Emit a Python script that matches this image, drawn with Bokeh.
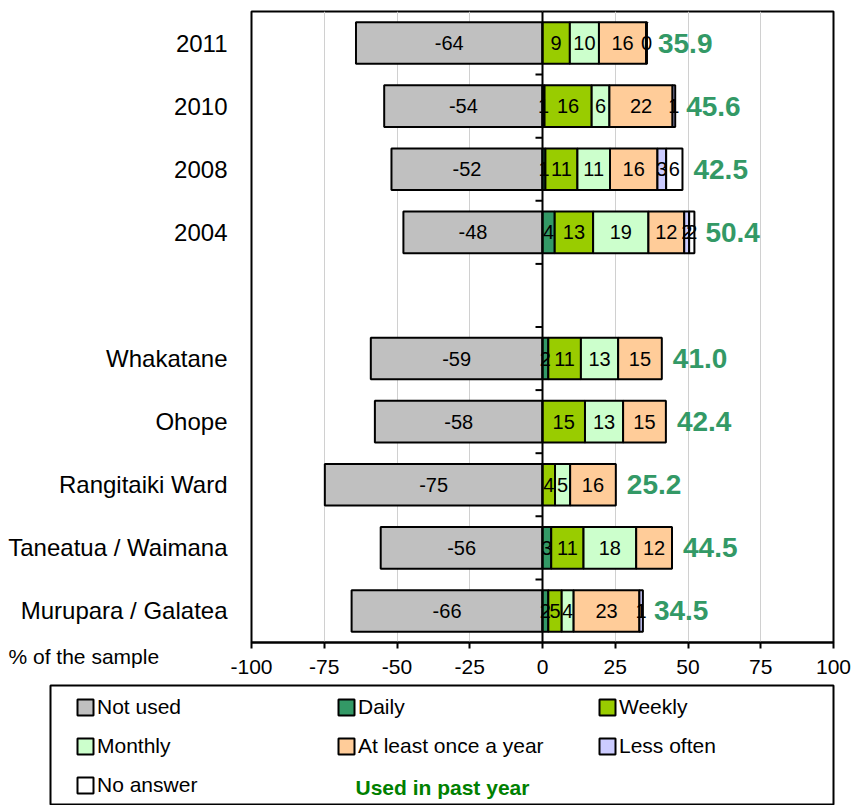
import numpy as np
from bokeh.plotting import figure
from bokeh.layouts import column
from bokeh.models import (ColumnDataSource, Range1d, FixedTicker, Span, Label,
                          Legend, LegendItem)
from bokeh.core.properties import value
from bokeh.embed import file_html
from bokeh.resources import INLINE

# ---------------- data ----------------
categories = ["2011", "2010", "2008", "2004", "", "Whakatane", "Ohope",
              "Rangitaiki Ward", "Taneatua / Waimana", "Murupara / Galatea"]
not_used = [64.1, 54.4, 51.9, 47.8, 0, 59.0, 57.6, 74.8, 55.6, 65.6]
daily = [0, 0.7, 1.0, 4.2, 0, 2.0, 0, 0, 3.0, 2.0]
weekly = [9.4, 16.2, 11.0, 13.2, 0, 11.2, 14.6, 4.3, 11.1, 4.6]
monthly = [10.0, 6.1, 11.2, 19.0, 0, 12.8, 13.1, 5.2, 18.1, 4.1]
yearly = [16.2, 21.7, 16.3, 12.3, 0, 15.0, 14.7, 15.7, 12.3, 22.6]
less_often = [0.3, 0.9, 3.0, 1.7, 0, 0, 0, 0, 0, 1.2]
no_answer = [0, 0, 5.6, 1.8, 0, 0, 0, 0, 0, 0]
used_past_year = [35.9, 45.6, 42.5, 50.4, None, 41.0, 42.4, 25.2, 44.5, 34.5]
x_ticks = [-100, -75, -50, -25, 0, 25, 50, 75, 100]
x_tick_labels = ["-100", "-75", "-50", "-25", "0", "25", "50", "75", "100"]

series_names = ["Not used", "Daily", "Weekly", "Monthly",
                "At least once a year", "Less often", "No answer"]
series_colors = ["#C0C0C0", "#339966", "#99CC00", "#CCFFCC",
                 "#FFCC99", "#CCCCFF", "#FFFFFF"]

FONT = "Liberation Sans"
n = len(categories)
y_pos = np.array([n - i - 0.5 for i in range(n)])

W = 852
H1 = 699
BL, BR, BT, BB = 251, 19, 11, 42
frame_w = W - BL - BR
px_per_unit = frame_w / (x_ticks[-1] - x_ticks[0])

p = figure(width=W, height=H1, output_backend="svg", toolbar_location=None,
           x_range=Range1d(x_ticks[0], x_ticks[-1]), y_range=Range1d(0, n),
           min_border_left=BL, min_border_right=BR, min_border_top=BT,
           min_border_bottom=BB)
p.outline_line_color = "black"
p.outline_line_width = 2
p.background_fill_color = "white"
p.border_fill_color = "white"

p.xaxis.ticker = FixedTicker(ticks=x_ticks)
p.xaxis.major_label_overrides = {t: s for t, s in zip(x_ticks, x_tick_labels)}
p.xaxis.axis_line_width = 2
p.xaxis.axis_line_color = "black"
p.xaxis.major_tick_out = 6
p.xaxis.major_tick_in = 0
p.xaxis.major_tick_line_width = 2
p.xaxis.minor_tick_line_color = None
p.xaxis.major_label_text_font = FONT
p.xaxis.major_label_text_font_size = "21px"
p.xaxis.major_label_text_color = "black"
p.xaxis.major_label_standoff = 11

p.yaxis.ticker = FixedTicker(ticks=list(y_pos))
p.yaxis.major_label_overrides = {float(y): c for y, c in zip(y_pos, categories)}
p.yaxis.axis_line_color = None
p.yaxis.major_tick_line_color = None
p.yaxis.minor_tick_line_color = None
p.yaxis.major_label_text_font = FONT
p.yaxis.major_label_text_font_size = "24px"
p.yaxis.major_label_text_color = "black"
p.yaxis.major_label_standoff = 18

p.xgrid.grid_line_color = "#D0D0D0"
p.xgrid.grid_line_width = 1
p.ygrid.grid_line_color = None

# ---------------- bars ----------------
bar_h = 0.66
pos_series = [daily, weekly, monthly, yearly, less_often, no_answer]
pos_arr = np.array(pos_series, dtype=float)
cum = np.cumsum(pos_arr, axis=0)
lefts = np.vstack([np.zeros(n), cum[:-1]])

label_x, label_y, label_t = [], [], []
sources = []

nu = np.array(not_used, dtype=float)
mask = nu > 0
src = ColumnDataSource(dict(y=y_pos[mask], left=-nu[mask], right=np.zeros(mask.sum())))
sources.append(src)
p.hbar(y="y", left="left", right="right", height=bar_h, source=src,
       fill_color=series_colors[0], line_color="black", line_width=2)
for v, y in zip(nu[mask], y_pos[mask]):
    label_x.append(-v / 2); label_y.append(y); label_t.append(f"{-v:.0f}")

for k, vals in enumerate(pos_series):
    arr = np.array(vals, dtype=float)
    m = arr > 0
    src = ColumnDataSource(dict(y=y_pos[m], left=lefts[k][m], right=cum[k][m]))
    sources.append(src)
    p.hbar(y="y", left="left", right="right", height=bar_h, source=src,
           fill_color=series_colors[k + 1], line_color="black", line_width=2)
    for l, r, v, y in zip(lefts[k][m], cum[k][m], arr[m], y_pos[m]):
        label_x.append((l + r) / 2); label_y.append(y); label_t.append(f"{v:.0f}")

p.text(x=label_x, y=label_y, text=label_t, text_align="center",
       text_baseline="middle", text_font=value(FONT), text_font_size="20px",
       text_color="black")

tot_x, tot_y, tot_t = [], [], []
for i, u in enumerate(used_past_year):
    if u is None:
        continue
    tot_x.append(cum[-1][i]); tot_y.append(y_pos[i]); tot_t.append(f"{u:.1f}")
p.text(x=tot_x, y=tot_y, text=tot_t, x_offset=11, text_align="left",
       text_baseline="middle", text_font=value(FONT), text_font_size="28px",
       text_font_style="bold", text_color="#339966")

p.add_layout(Span(location=0, dimension="height", line_color="black", line_width=2))
tick_len = 7 / px_per_unit
bounds = list(range(1, n))
p.segment(x0=[-tick_len] * len(bounds), x1=[0] * len(bounds), y0=bounds, y1=bounds,
          line_color="black", line_width=2)

p.add_layout(Label(x=8 - BL, y=43, x_units="screen", y_units="screen",
                   text="% of the sample", text_font=FONT, text_font_size="21px",
                   text_color="black", text_baseline="middle"), "below")

# ---------------- legend figure ----------------
H2 = 121
LB, LR = 50, 19
q = figure(width=W, height=H2, output_backend="svg", toolbar_location=None,
           x_range=Range1d(1000, 1001), y_range=Range1d(1000, 1001),
           x_axis_location=None, y_axis_location=None,
           min_border_left=LB, min_border_right=LR, min_border_top=1,
           min_border_bottom=0)
q.grid.visible = False
q.outline_line_color = "black"
q.outline_line_width = 2
q.background_fill_color = "white"
q.border_fill_color = "white"

for fig in (p, q):
    try:
        fig.frame_align = False
    except Exception:
        pass
try:
    q.margin = (-15, 0, 0, 0)
except Exception:
    pass

items = []
for nm, col, s in zip(series_names, series_colors, sources):
    r = q.hbar(y="y", left="left", right="right", height=bar_h, source=s,
               fill_color=col, line_color="black", line_width=2)
    r.visible = False
    items.append(LegendItem(label=nm, renderers=[r]))

leg = Legend(items=items, ncols=3, orientation="horizontal", padding=5, spacing=15,
             margin=0, glyph_width=20, glyph_height=20, label_standoff=2,
             label_width=224, label_height=24, label_text_font=FONT,
             label_text_font_size="21px", label_text_color="black",
             border_line_color=None, background_fill_alpha=0,
             location=(25, 8))
q.add_layout(leg)
q.add_layout(Label(x=305, y=18, x_units="screen", y_units="screen",
                   text="Used in past year", text_font=FONT, text_font_size="21px",
                   text_font_style="bold", text_color="#008000",
                   text_baseline="middle"))

open("out.html", "w").write(file_html(column(p, q, spacing=0), INLINE))
